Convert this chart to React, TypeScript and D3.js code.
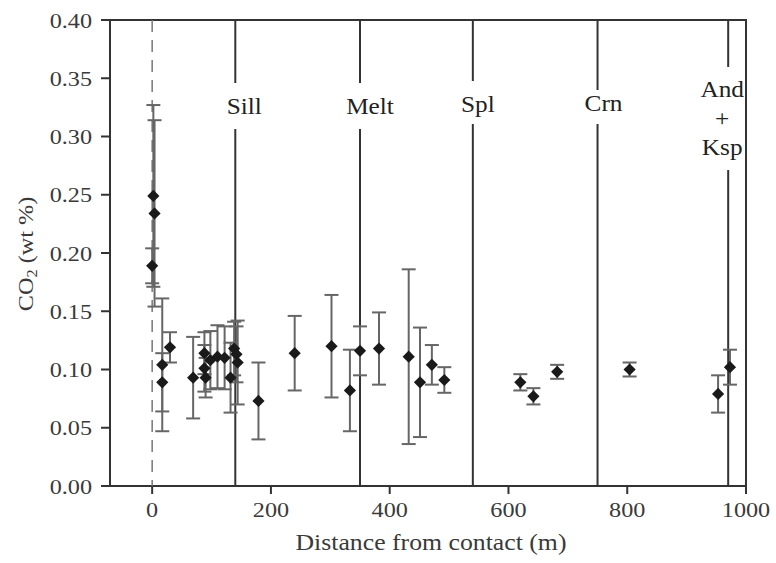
import React from "react";
import * as d3 from "d3";

const distances = [2, 4, 0, 17, 17, 30, 69, 88, 88, 90, 98, 110, 122, 132, 138, 142, 144, 179, 240, 302, 333, 350, 382, 432, 451, 471, 492, 620, 642, 682, 804, 953, 973];
const co2 = [0.249, 0.234, 0.189, 0.104, 0.089, 0.119, 0.093, 0.114, 0.101, 0.093, 0.108, 0.111, 0.110, 0.093, 0.118, 0.113, 0.106, 0.073, 0.114, 0.120, 0.082, 0.116, 0.118, 0.111, 0.089, 0.104, 0.091, 0.089, 0.077, 0.098, 0.100, 0.079, 0.102];
const errors = [0.078, 0.080, 0.015, 0.057, 0.025, 0.013, 0.035, 0.018, 0.020, 0.017, 0.025, 0.027, 0.027, 0.030, 0.023, 0.024, 0.036, 0.033, 0.032, 0.044, 0.035, 0.021, 0.031, 0.075, 0.047, 0.017, 0.011, 0.007, 0.007, 0.006, 0.006, 0.016, 0.015];

const boundaryDist = [140, 350, 540, 750, 970];
const boundaryLabels = [["Sill"], ["Melt"], ["Spl"], ["Crn"], ["And", "+", "Ksp"]];

const xTicks = [0, 200, 400, 600, 800, 1000];
const yTicks = [0, 0.05, 0.1, 0.15, 0.2, 0.25, 0.3, 0.35, 0.4];

export default function App() {
  const W = 776, H = 563;
  const left = 110, right = 746, top = 20, bottom = 486;
  const x = d3.scaleLinear().domain([-71, 1000]).range([left, right]);
  const y = d3.scaleLinear().domain([0, 0.4]).range([bottom, top]);
  const font = "'Liberation Serif', 'DejaVu Serif', serif";
  const lineColor = "#333";
  const barColor = "#666";
  const textColor = "#3a3a3a";

  const labelDx = [9, 10, 5, 6, -6];
  const labelY = [106, 106, 104, 103, 89];
  const gapTop = [83, 83, 81, 90, 67];
  const gapBottom = [129, 129, 124, 124, 170];

  const diamond = d3.symbol().type(d3.symbolDiamond2).size(95)();

  const sx = 1.1;

  return (
    <svg width={W} height={H} style={{ position: "absolute", left: 0, top: 0, background: "#fff" }}>
      <rect x={left} y={top} width={right - left} height={bottom - top} fill="none" stroke={lineColor} strokeWidth={2} />
      <line x1={x(0)} x2={x(0)} y1={top} y2={bottom} stroke="#777" strokeWidth={1.5} strokeDasharray="12,8" />
      {boundaryDist.map((d, i) => (
        <g key={"b" + i}>
          <line x1={x(d)} x2={x(d)} y1={top} y2={gapTop[i]} stroke={lineColor} strokeWidth={2} />
          <line x1={x(d)} x2={x(d)} y1={gapBottom[i]} y2={bottom} stroke={lineColor} strokeWidth={2} />
          {boundaryLabels[i].map((t, j) => (
            <text key={j} transform={`translate(${x(d) + labelDx[i]},${labelY[i] + j * 29}) scale(${sx},1)`} textAnchor="middle" dominantBaseline="central" fontFamily={font} fontSize={23} fill="#222">
              {t}
            </text>
          ))}
        </g>
      ))}
      {distances.map((d, i) => {
        const cx = x(d);
        const y1 = y(co2[i] + errors[i]);
        const y2 = y(co2[i] - errors[i]);
        return (
          <g key={"e" + i} stroke={barColor} strokeWidth={2}>
            <line x1={cx} x2={cx} y1={y1} y2={y2} />
            <line x1={cx - 7} x2={cx + 7} y1={y1} y2={y1} />
            <line x1={cx - 7} x2={cx + 7} y1={y2} y2={y2} />
          </g>
        );
      })}
      {distances.map((d, i) => (
        <path key={"p" + i} d={diamond} transform={`translate(${x(d)},${y(co2[i])})`} fill="#1a1a1a" />
      ))}
      {yTicks.map((t) => (
        <g key={"y" + t}>
          <line x1={left - 9} x2={left} y1={y(t)} y2={y(t)} stroke={lineColor} strokeWidth={2} />
          <text transform={`translate(${left - 18},${y(t)}) scale(${sx},1)`} textAnchor="end" dominantBaseline="central" fontFamily={font} fontSize={22} fill={textColor}>
            {d3.format(".2f")(t)}
          </text>
        </g>
      ))}
      {xTicks.map((t) => (
        <g key={"x" + t}>
          <line x1={x(t)} x2={x(t)} y1={bottom} y2={bottom + 8} stroke={lineColor} strokeWidth={2} />
          <text transform={`translate(${x(t)},${bottom + 23}) scale(${sx},1)`} textAnchor="middle" dominantBaseline="central" fontFamily={font} fontSize={22} fill={textColor}>
            {t}
          </text>
        </g>
      ))}
      <text transform={`translate(${(left + right) / 2 + 3},542) scale(1.12,1)`} textAnchor="middle" dominantBaseline="central" fontFamily={font} fontSize={23} fill={textColor}>
        Distance from contact (m)
      </text>
      <text transform={`translate(25,254) rotate(-90) scale(1.1,1)`} textAnchor="middle" dominantBaseline="central" fontFamily={font} fontSize={22} fill={textColor}>
        CO<tspan fontSize={15} dy={6}>2</tspan><tspan dy={-6}> (wt %)</tspan>
      </text>
    </svg>
  );
}
